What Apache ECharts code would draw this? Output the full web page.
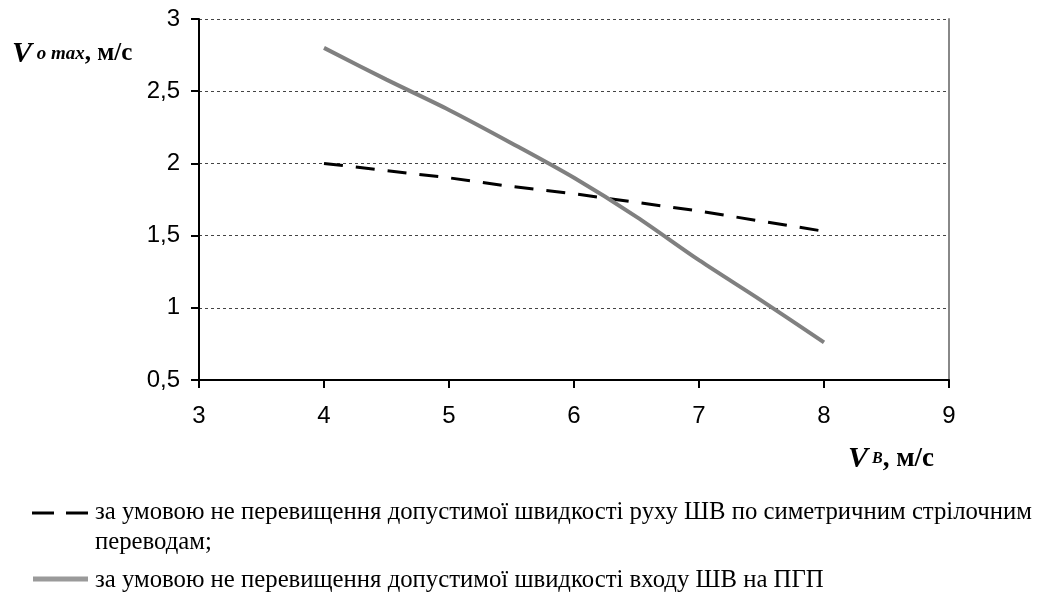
<!DOCTYPE html>
<html>
<head>
<meta charset="utf-8">
<script src="https://cdn.jsdelivr.net/npm/echarts@6/dist/echarts.min.js"></script>
<style>
  html, body { margin: 0; padding: 0; background: #fff; }
  #chart { width: 1059px; height: 594px; }
</style>
</head>
<body>
<div id="chart"></div>
<script>
// Train speed (x) and maximum speed (y), m/s
const speedB = [4, 4.5, 5, 5.5, 6, 6.5, 7, 7.5, 8];
const switchLimit = [2.0, 1.95, 1.9, 1.84, 1.79, 1.73, 1.67, 1.6, 1.53];
const entryLimit = [2.8, 2.58, 2.37, 2.14, 1.9, 1.63, 1.33, 1.05, 0.76];
const xTicks = [3, 4, 5, 6, 7, 8, 9];
const yTicks = [0.5, 1, 1.5, 2, 2.5, 3];
const seriesNames = [
  'за умовою не перевищення допустимої швидкості руху ШВ по симетричним стрілочним',
  'переводам;',
  'за умовою не перевищення допустимої швидкості входу ШВ на ПГП'
];

const chart = echarts.init(document.getElementById('chart'), null, { renderer: 'canvas' });
const serif = '"Liberation Serif", "Times New Roman", serif';
const sans = '"Liberation Sans", Arial, sans-serif';

const pairs = (ys) => speedB.map((x, i) => [x, ys[i]]);

const titleRich = (subSize, unitSize) => ({
  v: { fontFamily: serif, fontStyle: 'italic', fontWeight: 'bold', fontSize: 30, fill: '#000' },
  s: { fontFamily: serif, fontStyle: 'italic', fontWeight: 'bold', fontSize: subSize, fill: '#000' },
  u: { fontFamily: serif, fontWeight: 'bold', fontSize: unitSize, fill: '#000' }
});

chart.setOption({
  animation: false,
  backgroundColor: '#fff',
  grid: { left: 199, right: 110, top: 19, bottom: 214 },
  xAxis: {
    type: 'value',
    min: xTicks[0], max: xTicks[xTicks.length - 1], interval: 1,
    axisLine: { lineStyle: { color: '#000', width: 2 } },
    axisTick: { show: true, length: 8, lineStyle: { color: '#000', width: 2 } },
    axisLabel: { color: '#000', fontFamily: sans, fontSize: 24, margin: 24 },
    splitLine: { show: false }
  },
  yAxis: [{
    type: 'value',
    min: yTicks[0], max: yTicks[yTicks.length - 1], interval: 0.5,
    axisLine: { show: true, lineStyle: { color: '#000', width: 2 } },
    axisTick: { show: true, length: 8, lineStyle: { color: '#000', width: 2 } },
    axisLabel: {
      color: '#000', fontFamily: sans, fontSize: 24, margin: 19,
      formatter: (v) => String(v).replace('.', ',')
    },
    splitLine: { show: true, lineStyle: { color: '#444', width: 1, type: [3, 3] } }
  }, {
    type: 'value', position: 'right',
    min: yTicks[0], max: yTicks[yTicks.length - 1], interval: 0.5,
    axisLine: { show: true, lineStyle: { color: '#888', width: 2 } },
    axisTick: { show: false }, axisLabel: { show: false }, splitLine: { show: false }
  }],
  series: [{
    name: seriesNames[0],
    type: 'line', data: pairs(switchLimit), symbol: 'none',
    lineStyle: { color: '#000', width: 3, type: [19, 13] }
  }, {
    name: seriesNames[2],
    type: 'line', data: pairs(entryLimit), symbol: 'none', smooth: 0.3,
    lineStyle: { color: '#808080', width: 4 }
  }],
  graphic: [
    {
      type: 'text', left: 12, top: 39,
      style: { text: '{v|V}{s| o max}{u|, м/с}', rich: titleRich(19, 25) }
    },
    {
      type: 'text', left: 848, top: 444,
      style: { text: '{v|V}{s| B}{u|, м/с}', rich: titleRich(16, 27) }
    },
    // legend: dashed sample
    { type: 'line', shape: { x1: 32, y1: 513, x2: 54, y2: 513 }, style: { stroke: '#000', lineWidth: 3 } },
    { type: 'line', shape: { x1: 66, y1: 513, x2: 88, y2: 513 }, style: { stroke: '#000', lineWidth: 3 } },
    {
      type: 'text', left: 95, top: 500,
      style: { text: seriesNames[0], fontFamily: serif, fontSize: 24.75, fill: '#000' }
    },
    {
      type: 'text', left: 95, top: 530,
      style: { text: seriesNames[1], fontFamily: serif, fontSize: 24.75, fill: '#000' }
    },
    // legend: solid grey sample
    { type: 'line', shape: { x1: 33, y1: 579, x2: 88, y2: 579 }, style: { stroke: '#9a9a9a', lineWidth: 5 } },
    {
      type: 'text', left: 95, top: 568,
      style: { text: seriesNames[2], fontFamily: serif, fontSize: 24.75, fill: '#000' }
    }
  ]
});
</script>
</body>
</html>
